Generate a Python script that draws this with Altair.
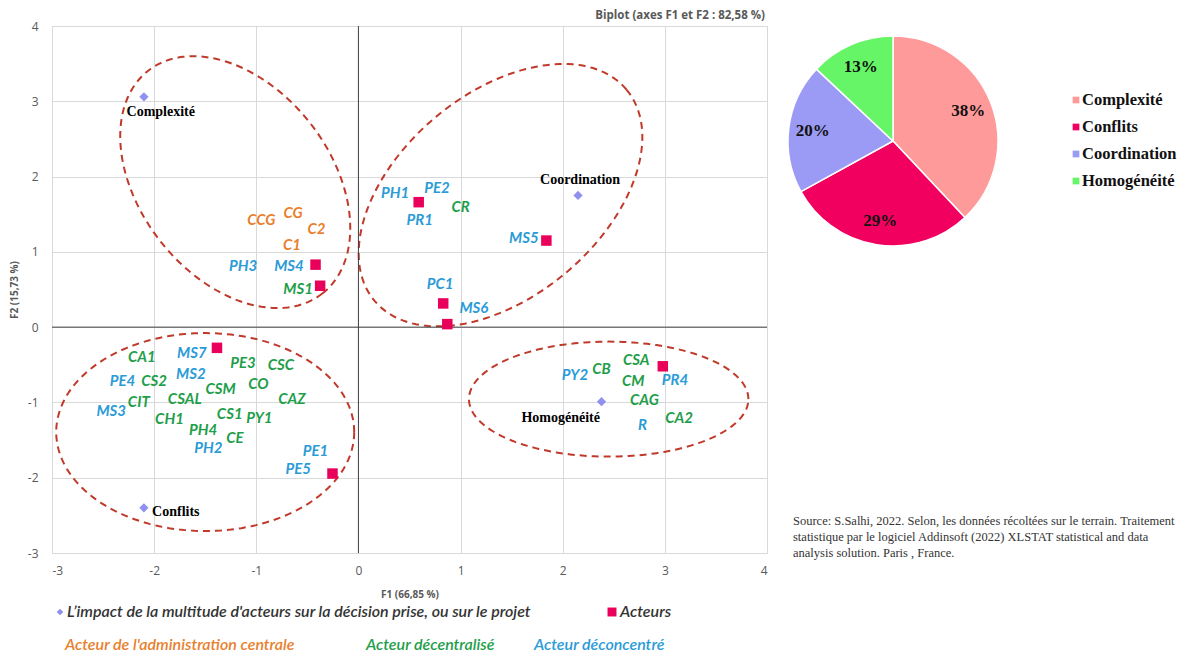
import altair as alt
import numpy as np
import pandas as pd

# ---------------- data ----------------
# actor labels (text) with their group
lab_names = ["CCG", "CG", "C2", "C1", "PH3", "MS4", "MS1",
             "PH1", "PE2", "PR1", "CR", "MS5", "PC1", "MS6",
             "CA1", "MS7", "PE3", "CSC", "PE4", "CS2", "MS2", "CSM", "CO",
             "CIT", "CSAL", "CAZ", "MS3", "CH1", "CS1", "PY1", "PH4", "CE",
             "PH2", "PE1", "PE5",
             "PY2", "CB", "CSA", "CM", "PR4", "CAG", "CA2", "R"]
lab_x = [-0.95, -0.64, -0.41, -0.65, -1.13, -0.68, -0.59,
         0.36, 0.77, 0.60, 1.00, 1.62, 0.80, 1.13,
         -2.12, -1.63, -1.13, -0.76, -2.31, -2.00, -1.64, -1.35, -0.98,
         -2.15, -1.70, -0.65, -2.42, -1.85, -1.26, -0.97, -1.52, -1.21,
         -1.47, -0.42, -0.59,
         2.12, 2.38, 2.72, 2.69, 3.10, 2.80, 3.14, 2.78]
lab_y = [1.42, 1.52, 1.31, 1.09, 0.81, 0.81, 0.51,
         1.78, 1.85, 1.42, 1.60, 1.19, 0.57, 0.25,
         -0.39, -0.34, -0.47, -0.50, -0.72, -0.72, -0.62, -0.82, -0.76,
         -0.99, -0.95, -0.96, -1.12, -1.22, -1.15, -1.21, -1.36, -1.47,
         -1.61, -1.65, -1.89,
         -0.64, -0.55, -0.43, -0.71, -0.70, -0.97, -1.21, -1.30]
lab_group = ["central", "central", "central", "central", "deconc", "deconc", "decent",
             "deconc", "deconc", "deconc", "decent", "deconc", "deconc", "deconc",
             "decent", "deconc", "decent", "decent", "deconc", "decent", "deconc", "decent", "decent",
             "decent", "decent", "decent", "deconc", "decent", "decent", "decent", "decent", "decent",
             "deconc", "deconc", "deconc",
             "deconc", "decent", "decent", "decent", "deconc", "decent", "decent", "deconc"]

# actor points (squares)
act_x = [-0.42, -0.375, 0.59, 1.84, 0.83, 0.87, -1.385, -0.254, 2.98]
act_y = [0.83, 0.55, 1.66, 1.15, 0.315, 0.04, -0.275, -1.945, -0.52]

# variables (diamonds)
var_names = ["Complexité", "Coordination", "Conflits", "Homogénéité"]
var_x = [-2.10, 2.15, -2.10, 2.38]
var_y = [3.06, 1.75, -2.40, -0.99]
var_lab_x = [-2.27, 2.17, -2.02, 1.98]
var_lab_y = [2.86, 1.95, -2.46, -1.21]
var_align = ["left", "center", "left", "center"]

# ellipses: centre (data), semi axes (px), angle (deg)
ell_cx = [-1.206, 1.391, -1.50, 2.45]
ell_cy = [1.926, 1.753, -1.394, -0.956]
ell_a = [141.4, 164.4, 149.0, 139.7]
ell_b = [95.4, 101.5, 99.0, 57.5]
ell_ang = [-52.0, 40.0, 0.0, 0.0]

# pie
pie_cat = ["Complexité", "Conflits", "Coordination", "Homogénéité"]
pie_val = [38, 29, 20, 13]
pie_col = ["#FF9A9A", "#F2005F", "#9B9BF5", "#66F566"]

group_dom = ["central", "decent", "deconc"]
group_col = ["#E8802D", "#1E9E4A", "#2B9BD7"]

W, H = 715, 527
KX, KY = W / 7.0, H / 7.0

# ---------------- frames ----------------
labels = pd.DataFrame({"name": lab_names, "x": lab_x, "y": lab_y, "group": lab_group})
actors = pd.DataFrame({"x": act_x, "y": act_y})
vars_df = pd.DataFrame({"name": var_names, "x": var_x, "y": var_y,
                        "lx": var_lab_x, "ly": var_lab_y, "align": var_align})

rows = []
t = np.linspace(0, 2 * np.pi, 181)
for i in range(len(ell_cx)):
    phi = np.deg2rad(ell_ang[i])
    dx = ell_a[i] * np.cos(t) * np.cos(phi) - ell_b[i] * np.sin(t) * np.sin(phi)
    dy = ell_a[i] * np.cos(t) * np.sin(phi) + ell_b[i] * np.sin(t) * np.cos(phi)
    for k in range(len(t)):
        rows.append({"e": i, "k": k, "x": ell_cx[i] + dx[k] / KX, "y": ell_cy[i] + dy[k] / KY})
ell = pd.DataFrame(rows)

pie = pd.DataFrame({"cat": pie_cat, "val": pie_val, "order": [0, 1, 2, 3],
                    "pct": [f"{v}%" for v in pie_val]})

xs = alt.Scale(domain=[-3, 4], nice=False, zero=False)
ys = alt.Scale(domain=[-3, 4], nice=False, zero=False)
AX = dict(grid=True, gridColor="#D9D9D9", domain=False, ticks=False, labelColor="#595959",
          labelFont="Open Sans", labelFontSize=12, values=[-3, -2, -1, 0, 1, 2, 3, 4],
          labelExpr="datum.value < 0 ? '-' + abs(datum.value) : '' + datum.value",
          titleColor="#595959", titleFont="Open Sans", titleFontSize=10, titleFontWeight="bold")

base = alt.Chart(ell).mark_line(color="#C0392B", strokeWidth=2, strokeDash=[7, 5]).encode(
    x=alt.X("x:Q", scale=xs, axis=alt.Axis(title="F1 (66,85 %)", labelPadding=12,
                                             titleY=41, titleBaseline="middle", **AX)),
    y=alt.Y("y:Q", scale=ys, axis=alt.Axis(title="F2 (15,73 %)", labelPadding=14,
                                             titleX=-38, titleY=H / 2, titleBaseline="middle",
                                             **AX)),
    detail="e:N", order="k:Q")

zero_v = alt.Chart(pd.DataFrame({"x": [0]})).mark_rule(color="#404040", strokeWidth=1).encode(
    x=alt.X("x:Q", scale=xs))
zero_h = alt.Chart(pd.DataFrame({"y": [0]})).mark_rule(color="#404040", strokeWidth=1).encode(
    y=alt.Y("y:Q", scale=ys))

sq = alt.Chart(actors).mark_point(shape="square", filled=True, size=110, color="#E8005A",
                                  opacity=1).encode(
    x=alt.X("x:Q", scale=xs), y=alt.Y("y:Q", scale=ys))
dia = alt.Chart(vars_df).mark_point(shape="diamond", filled=True, size=85, color="#9090F0",
                                    opacity=1).encode(
    x=alt.X("x:Q", scale=xs), y=alt.Y("y:Q", scale=ys))

lab = alt.Chart(labels).mark_text(font="Lato", fontSize=15, fontWeight="bold",
                                  fontStyle="italic").encode(
    x=alt.X("x:Q", scale=xs), y=alt.Y("y:Q", scale=ys), text="name:N",
    color=alt.Color("group:N", scale=alt.Scale(domain=group_dom, range=group_col), legend=None))

vlab_l = alt.Chart(vars_df[vars_df["align"] == "left"]).mark_text(
    font="Liberation Serif", fontSize=14, fontWeight="bold", color="#000000", align="left").encode(
    x=alt.X("lx:Q", scale=xs), y=alt.Y("ly:Q", scale=ys), text="name:N")
vlab_c = alt.Chart(vars_df[vars_df["align"] == "center"]).mark_text(
    font="Liberation Serif", fontSize=14, fontWeight="bold", color="#000000", align="center").encode(
    x=alt.X("lx:Q", scale=xs), y=alt.Y("ly:Q", scale=ys), text="name:N")

# pie
PCX, PCY = 841, 115
pie_base = alt.Chart(pie).encode(
    theta=alt.Theta("val:Q", stack=True),
    order=alt.Order("order:Q"),
)
arc = pie_base.mark_arc(outerRadius=105, stroke="white", strokeWidth=1.5).encode(
    x=alt.value(PCX), y=alt.value(PCY),
    color=alt.Color("cat:N", sort=pie_cat, scale=alt.Scale(domain=pie_cat, range=pie_col),
                    legend=None))
pct = pie_base.mark_text(radius=81, font="Liberation Serif", fontSize=17, fontWeight="bold",
                         color="#111111").encode(x=alt.value(PCX), y=alt.value(PCY), text="pct:N")

# pie legend (custom)
pie_leg = []
for i, (c, col) in enumerate(zip(pie_cat, pie_col)):
    yy = 74 + 27 * i
    pie_leg.append(alt.Chart(pd.DataFrame({"t": [c]})).mark_point(
        shape="square", filled=True, size=45, color=col, opacity=1).encode(
        x=alt.value(1024), y=alt.value(yy)))
    pie_leg.append(alt.Chart(pd.DataFrame({"t": [c]})).mark_text(
        font="Liberation Serif", fontSize=16.5, fontWeight="bold", color="#111111",
        align="left").encode(x=alt.value(1030), y=alt.value(yy), text="t:N"))

# title
title = alt.Chart(pd.DataFrame({"t": ["Biplot (axes F1 et F2 : 82,58 %)"]})).mark_text(
    font="Open Sans", fontSize=11.5, fontWeight="bold", color="#595959", align="right").encode(
    x=alt.value(713), y=alt.value(-10), text="t:N")

# source text
src_lines = ["Source: S.Salhi, 2022. Selon, les données récoltées sur le terrain. Traitement",
             "statistique par le logiciel Addinsoft (2022) XLSTAT statistical and data",
             "analysis solution. Paris , France."]
src_layers = []
for i, s in enumerate(src_lines):
    src_layers.append(alt.Chart(pd.DataFrame({"t": [s]})).mark_text(
        font="Liberation Serif", fontSize=12.5, color="#333333", align="left").encode(
        x=alt.value(741), y=alt.value(495 + 16 * i), text="t:N"))

# bottom legends
leg_font = dict(font="Lato", fontSize=16, fontStyle="italic", align="left")
leg1_sym = alt.Chart(pd.DataFrame({"a": [0]})).mark_point(shape="diamond", filled=True, size=45,
                                                           color="#9090F0", opacity=1).encode(
    x=alt.value(8), y=alt.value(586))
leg1_txt = alt.Chart(pd.DataFrame({"t": ["L’impact de la multitude d'acteurs sur la décision prise, ou sur le projet"]})).mark_text(
    color="#333333", fontWeight=600, **leg_font).encode(x=alt.value(15), y=alt.value(586), text="t:N")
leg2_sym = alt.Chart(pd.DataFrame({"a": [0]})).mark_point(shape="square", filled=True, size=80,
                                                           color="#E8005A", opacity=1).encode(
    x=alt.value(560), y=alt.value(586))
leg2_txt = alt.Chart(pd.DataFrame({"t": ["Acteurs"]})).mark_text(
    color="#333333", fontWeight=600, **leg_font).encode(x=alt.value(568), y=alt.value(586), text="t:N")

grp_names = ["Acteur de l'administration centrale", "Acteur décentralisé", "Acteur déconcentré"]
grp_x = [13, 314, 482]
grp_layers = []
for n, gx, c in zip(grp_names, grp_x, group_col):
    grp_layers.append(alt.Chart(pd.DataFrame({"t": [n]})).mark_text(
        color=c, fontWeight=600, **leg_font).encode(x=alt.value(gx), y=alt.value(619), text="t:N"))

chart = alt.layer(
    base, zero_v, zero_h, lab, vlab_l, vlab_c, sq, dia, arc, pct, title, *pie_leg,
    leg1_sym, leg1_txt, leg2_sym, leg2_txt, *src_layers, *grp_layers
).resolve_scale(color="independent").properties(
    width=W, height=H,
    autosize=alt.AutoSizeParams(type="none"),
    padding={"left": 44, "top": 18, "right": 414, "bottom": 101},
).configure_view(stroke=None).configure(background="white")

chart.save("out.html", embed_options={"renderer": "svg", "actions": False})
